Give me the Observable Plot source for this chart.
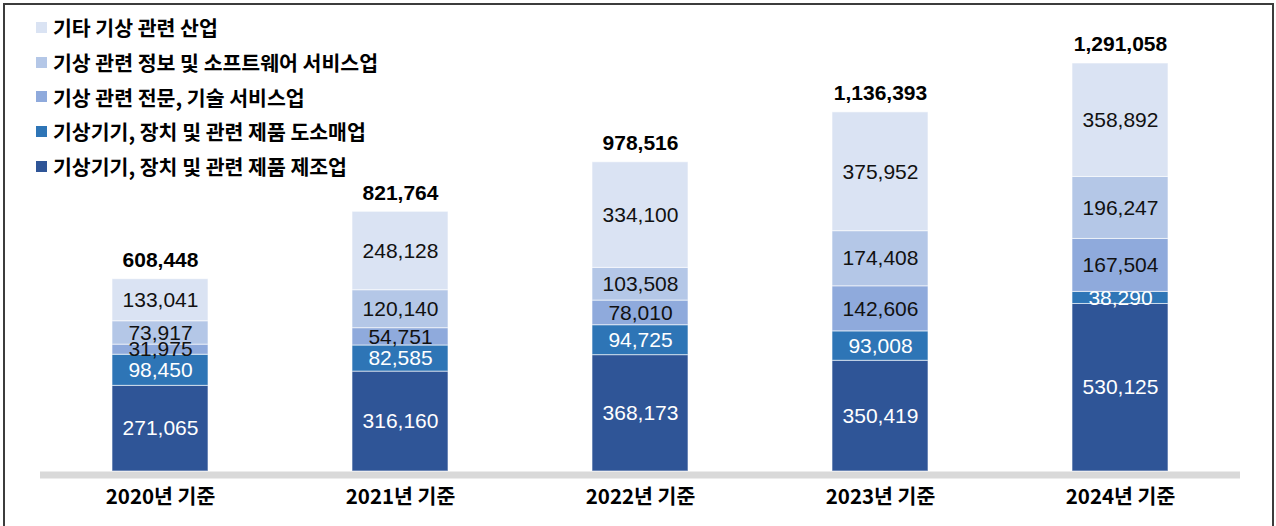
<!DOCTYPE html>
<html>
<head>
<meta charset="utf-8">
<script src="https://cdn.jsdelivr.net/npm/d3@7"></script>
<script src="https://cdn.jsdelivr.net/npm/@observablehq/plot@0.6"></script>
<style>
  html, body { margin: 0; padding: 0; background: #fff; }
  #wrap { position: relative; width: 1276px; height: 526px; overflow: hidden; background: #fff; }
  #chart { position: absolute; left: 0; top: 0; }
  #frame { position: absolute; left: 3px; top: 3px; width: 1271px; height: 600px; border: 2px solid #3c3c3c; box-sizing: border-box; pointer-events: none; }
  #legend { position: absolute; left: 36px; top: 10px; font-family: "Noto Sans CJK KR", "Noto Sans", sans-serif; font-weight: bold; font-size: 20.5px; color: #000; }
  #legend .item { display: flex; align-items: center; height: 34.7px; white-space: nowrap; }
  #legend .sw { width: 11px; height: 11px; margin-right: 6px; flex: none; }
</style>
</head>
<body>
<div id="wrap">
  <div id="chart"></div>
  <div id="legend"></div>
  <div id="frame"></div>
</div>
<script>
// ---- Data ----
const years = ["2020년 기준", "2021년 기준", "2022년 기준", "2023년 기준", "2024년 기준"];
const series = [
  "기상기기, 장치 및 관련 제품 제조업",
  "기상기기, 장치 및 관련 제품 도소매업",
  "기상 관련 전문, 기술 서비스업",
  "기상 관련 정보 및 소프트웨어 서비스업",
  "기타 기상 관련 산업"
];
const manufacturing = [271065, 316160, 368173, 350419, 530125];
const wholesale     = [98450, 82585, 94725, 93008, 38290];
const professional  = [31975, 54751, 78010, 142606, 167504];
const information   = [73917, 120140, 103508, 174408, 196247];
const other         = [133041, 248128, 334100, 375952, 358892];
const totals        = [608448, 821764, 978516, 1136393, 1291058];
const colors = ["#2F5597", "#2E75B6", "#8FAADC", "#B4C7E7", "#DAE3F3"];

// ---- Build table ----
const seriesValues = [manufacturing, wholesale, professional, information, other];
const rows = [];
years.forEach((yr, i) => {
  seriesValues.forEach((vals, s) => {
    rows.push({year: yr, series: series[s], value: vals[i], idx: s});
  });
});
const totalRows = years.map((yr, i) => ({year: yr, total: totals[i]}));
const fmt = d3.format(",");
const numFont = "'Liberation Sans', Arial, Helvetica, sans-serif";
const krFont = "'Noto Sans CJK KR', 'Noto Sans', sans-serif";

const chart = Plot.plot({
  width: 1276,
  height: 526,
  marginTop: 63,
  marginBottom: 55,
  marginLeft: 40,
  marginRight: 36,
  x: {domain: years, paddingInner: 0.6, paddingOuter: 0.3, label: null},
  y: {domain: [0, d3.max(totals)], axis: null},
  color: {domain: series, range: colors},
  style: {background: "transparent", fontFamily: numFont},
  marks: [
    Plot.barY(rows, Plot.stackY({
      x: "year", y: "value", fill: "series", order: series,
      stroke: "#ffffff", strokeOpacity: 0.6, strokeWidth: 1
    })),
    Plot.text(rows, Plot.stackY({
      x: "year", y: "value", z: "series", order: series,
      text: d => d.idx < 2 ? fmt(d.value) : null,
      fill: "#ffffff", fontSize: 21, fontFamily: numFont
    })),
    Plot.text(rows, Plot.stackY({
      x: "year", y: "value", z: "series", order: series,
      text: d => d.idx >= 2 ? fmt(d.value) : null,
      fill: "#111111", fontSize: 21, fontFamily: numFont
    })),
    Plot.text(totalRows, {
      x: "year", y: "total", text: d => fmt(d.total), dy: -19,
      fill: "#000", fontSize: 21, fontWeight: "bold", fontFamily: numFont
    }),
    Plot.ruleY([0], {stroke: "#d9d9d9", strokeWidth: 7, dy: 3.5}),
    Plot.axisX({
      tickSize: 0, tickPadding: 18, fontSize: 20.5, fontWeight: "bold",
      fontFamily: krFont, fill: "#000", label: null
    })
  ]
});
document.getElementById("chart").appendChild(chart);

// ---- Legend (top item = top of stack) ----
const legend = document.getElementById("legend");
series.map((s, i) => ({s, c: colors[i]})).reverse().forEach(({s, c}) => {
  const item = document.createElement("div");
  item.className = "item";
  const sw = document.createElement("span");
  sw.className = "sw";
  sw.style.background = c;
  const label = document.createElement("span");
  label.textContent = s;
  item.appendChild(sw);
  item.appendChild(label);
  legend.appendChild(item);
});
</script>
</body>
</html>
